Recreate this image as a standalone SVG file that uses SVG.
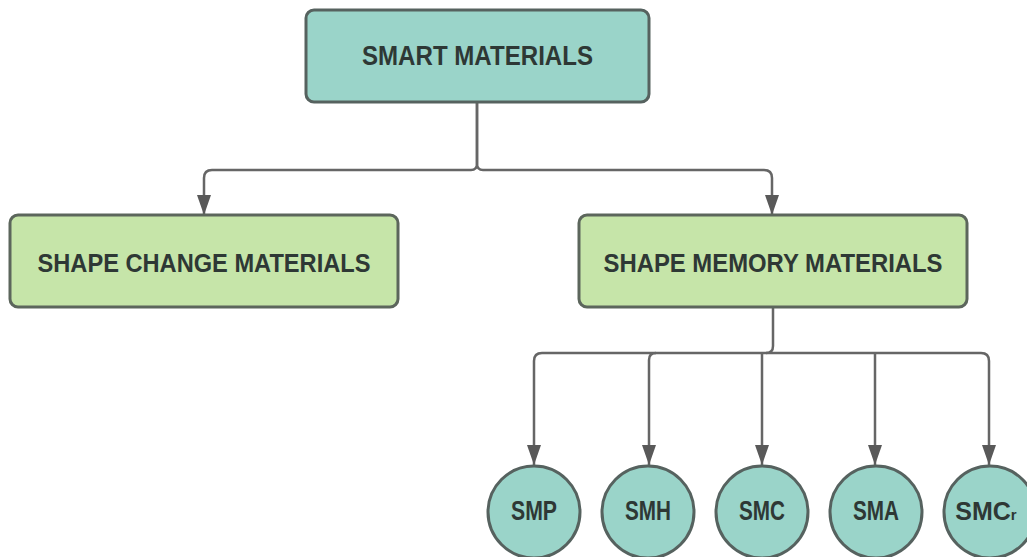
<svg xmlns="http://www.w3.org/2000/svg" width="1027" height="557" viewBox="0 0 1027 557">
<defs>
<marker id="arr" viewBox="0 0 20 14" refX="20" refY="7" markerWidth="20" markerHeight="14" markerUnits="userSpaceOnUse" orient="auto">
<path d="M0,0 L20,7 L0,14 z" fill="#595959"/>
</marker>
<style>
.teal{fill:#9ad4c9;stroke:#56625f;stroke-width:3}
.green{fill:#c6e5a9;stroke:#5c665c;stroke-width:3}
.lbl{font-family:"Liberation Sans",Arial,sans-serif;font-weight:bold;fill:#2e3835;text-anchor:middle}
.con{fill:none;stroke:#666;stroke-width:2.5}
</style>
</defs>
<rect width="1027" height="557" fill="#fff"/>
<g id="connectors">
<path class="con" d="M477,102 V164 Q477,170 471,170 H212 Q204,170 204,178 V215" marker-end="url(#arr)"/>
<path class="con" d="M477,102 V164 Q477,170 483,170 H764 Q772,170 772,178 V215" marker-end="url(#arr)"/>
<path class="con" d="M773,307 V346 Q773,353 766,353 H542 Q534,353 534,361 V465" marker-end="url(#arr)"/>
<path class="con" d="M656,353 Q649,353 649,360 V465" marker-end="url(#arr)"/>
<path class="con" d="M762,353 V465" marker-end="url(#arr)"/>
<path class="con" d="M766,353 H981 Q989,353 989,361 V465" marker-end="url(#arr)"/>
<path class="con" d="M875,353 V465" marker-end="url(#arr)"/>
</g>
<g id="smart-materials">
<rect class="teal" x="306" y="10" width="343" height="92" rx="8"/>
<text class="lbl" x="477.5" y="65" font-size="27" textLength="231" lengthAdjust="spacingAndGlyphs">SMART MATERIALS</text>
</g>
<g id="shape-change">
<rect class="green" x="10" y="215" width="388" height="92" rx="8"/>
<text class="lbl" x="204" y="272" font-size="25" textLength="333" lengthAdjust="spacingAndGlyphs">SHAPE CHANGE MATERIALS</text>
</g>
<g id="shape-memory">
<rect class="green" x="579" y="215" width="388" height="92" rx="8"/>
<text class="lbl" x="773" y="272" font-size="25" textLength="339" lengthAdjust="spacingAndGlyphs">SHAPE MEMORY MATERIALS</text>
</g>
<g id="smp">
<circle class="teal" cx="534" cy="512" r="46"/>
<text class="lbl" x="534" y="520" font-size="27" textLength="46" lengthAdjust="spacingAndGlyphs">SMP</text>
</g>
<g id="smh">
<circle class="teal" cx="648" cy="512" r="46"/>
<text class="lbl" x="648" y="520" font-size="27" textLength="46" lengthAdjust="spacingAndGlyphs">SMH</text>
</g>
<g id="smc">
<circle class="teal" cx="762" cy="512" r="46"/>
<text class="lbl" x="762" y="520" font-size="27" textLength="46" lengthAdjust="spacingAndGlyphs">SMC</text>
</g>
<g id="sma">
<circle class="teal" cx="876" cy="512" r="46"/>
<text class="lbl" x="876" y="520" font-size="27" textLength="46" lengthAdjust="spacingAndGlyphs">SMA</text>
</g>
<g id="smcr">
<circle class="teal" cx="990" cy="512" r="46"/>
<text class="lbl" x="986" y="520" font-size="25">SMC<tspan font-size="15">r</tspan></text>
</g>
</svg>
